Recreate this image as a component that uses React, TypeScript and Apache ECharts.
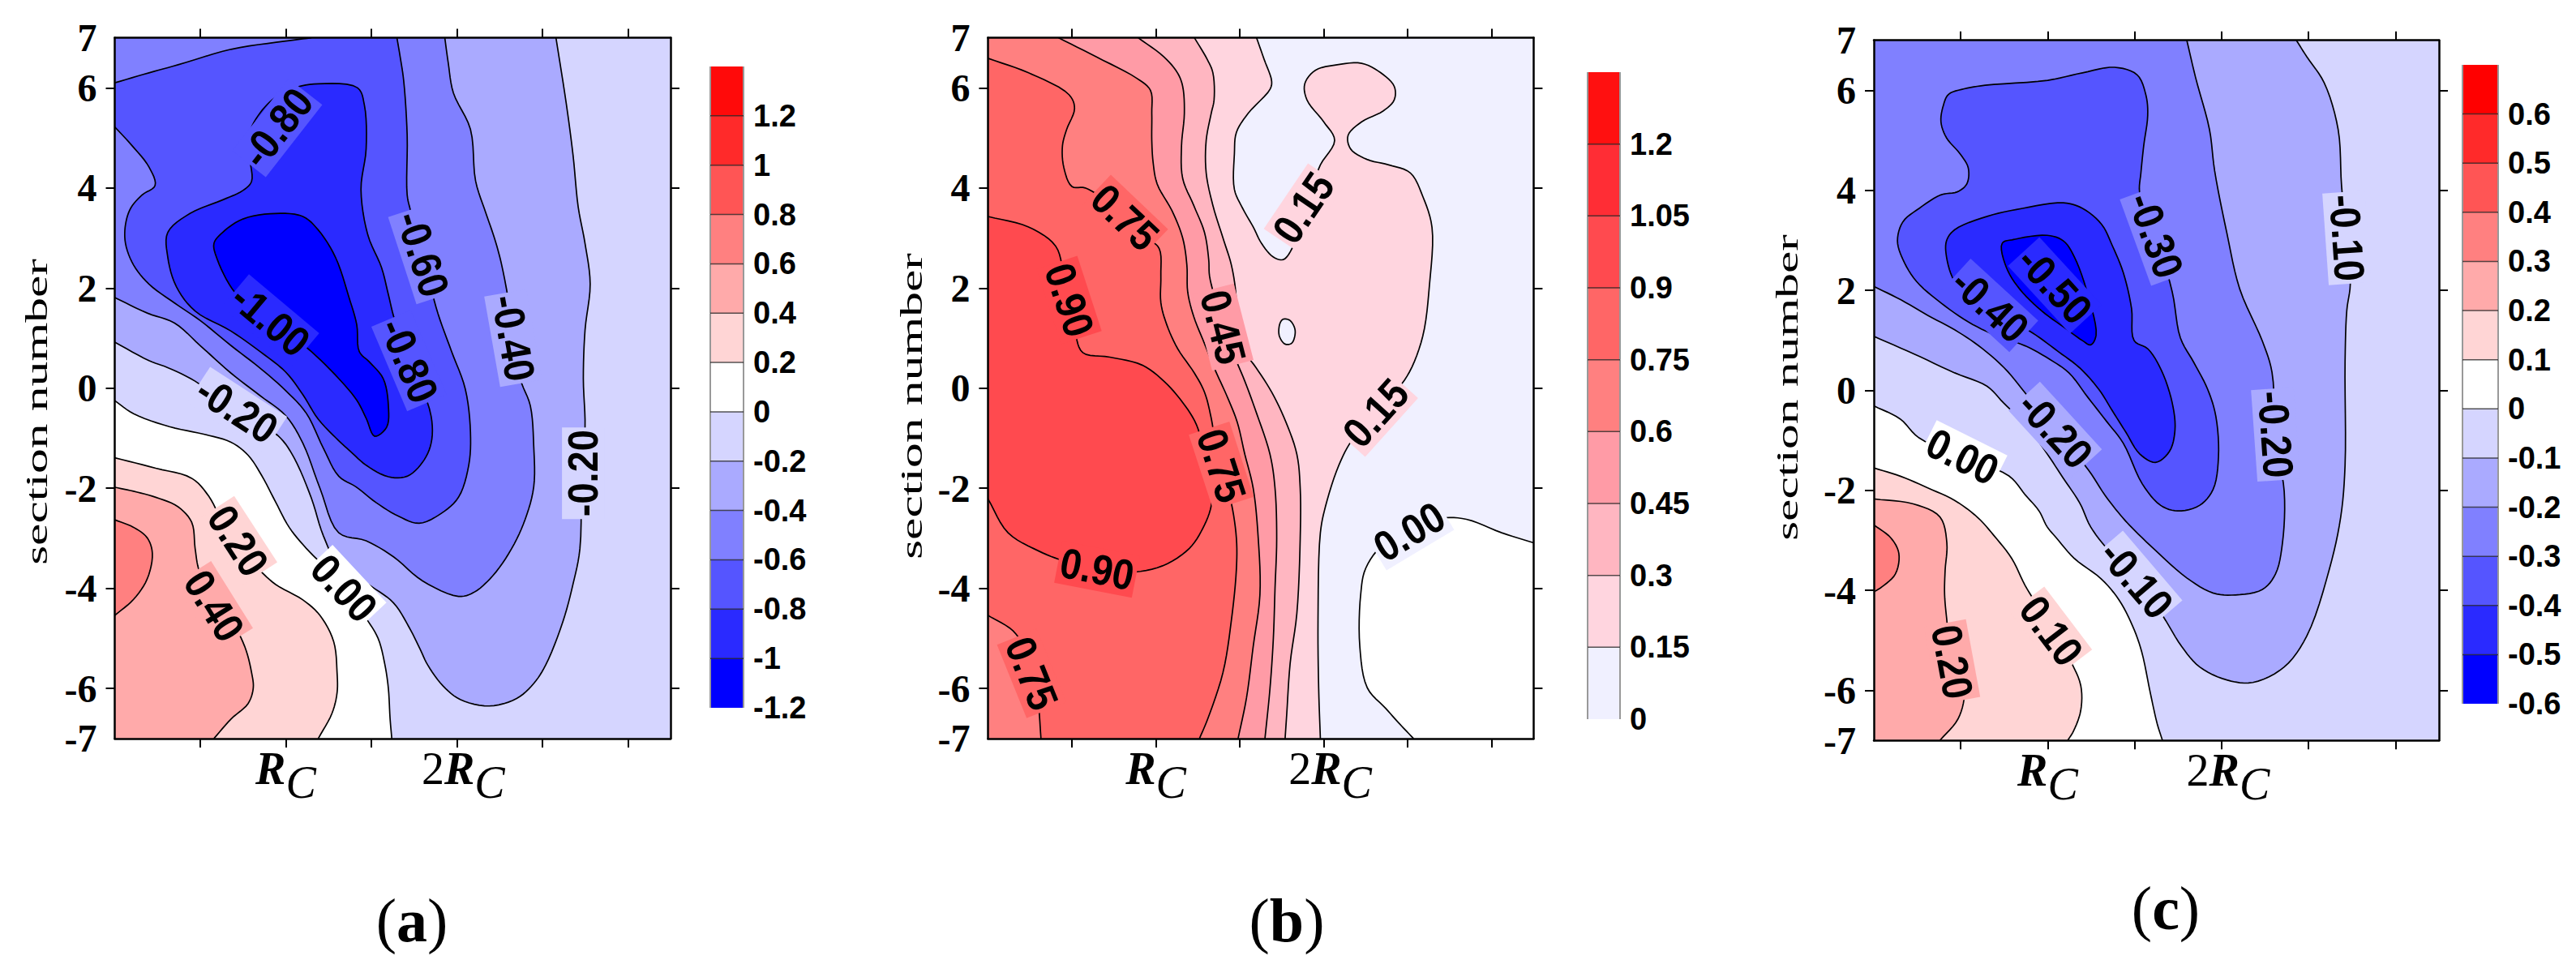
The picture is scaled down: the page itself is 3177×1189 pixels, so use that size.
import React, { useEffect, useRef } from "react";
import * as echarts from "echarts";

// ---------------- shared axes ----------------
const X_MIN = 0, X_MAX = 3.25, Y_MIN = -7, Y_MAX = 7;
const X_TICKS = [0.5, 1, 1.5, 2, 2.5, 3];
const X_LABEL_TICKS = [1, 2];
const Y_TICKS = [-6, -4, -2, 0, 2, 4, 6];
const Y_LABELS = [-7, -6, -4, -2, 0, 2, 4, 6, 7];
const Y_TITLE = "section number";
const TAGS = ["a", "b", "c"];

// ---------------- panel (a) ----------------
const A_LEVELS = [-1.2, -1, -0.8, -0.6, -0.4, -0.2, 0, 0.2, 0.4, 0.6, 0.8, 1, 1.2];
const A_COLORS = ["#0000FF", "#2A2AFF", "#5555FF", "#8080FF", "#AAAAFF", "#D5D5FF", "#FFFFFF", "#FFD5D5", "#FFAAAA", "#FF8080", "#FF5555", "#FF2A2A", "#FF0A0A"];
const A_CBAR_TOP = 1.4;
const A_CBAR_LABELS = [1.2, 1, 0.8, 0.6, 0.4, 0.2, 0, -0.2, -0.4, -0.6, -0.8, -1, -1.2];
const A_M10 = [[0.60,2.57],[0.58,2.89],[0.63,3.11],[0.75,3.38],[0.94,3.49],[1.10,3.43],[1.19,3.16],[1.29,2.62],[1.37,1.81],[1.415,1.27],[1.43,0.73],[1.49,0.52],[1.57,0.19],[1.60,-0.35],[1.59,-0.78],[1.52,-0.96],[1.47,-0.6],[1.415,-0.24],[1.31,0.19],[1.15,0.73],[1.05,1.0],[0.91,1.32],[0.80,1.6],[0.69,1.97]];
const A_M08 = [[0.31,3.11],[0.44,3.49],[0.63,3.76],[0.75,3.95],[0.80,4.13],[0.79,4.6],[0.79,5.11],[0.85,5.5],[0.94,5.81],[1.05,6.0],[1.19,6.08],[1.42,6.0],[1.46,5.65],[1.47,4.78],[1.44,3.97],[1.48,3.06],[1.56,2.41],[1.60,1.87],[1.64,1.33],[1.75,0.4],[1.85,-0.56],[1.85,-1.1],[1.80,-1.48],[1.71,-1.76],[1.60,-1.77],[1.47,-1.54],[1.38,-1.27],[1.31,-1.05],[1.19,-0.62],[1.10,-0.13],[1.0,0.32],[0.85,0.73],[0.68,1.14],[0.47,1.54],[0.36,2.03],[0.31,2.62]];
const A_M06A = [[0,6.1],[0.2,6.3],[0.37,6.46],[0.68,6.77],[0.99,6.93],[1.15,7]];
const A_M06B = [[0,5.22],[0.10,4.85],[0.20,4.42],[0.236,4.05],[0.16,3.86],[0.094,3.6],[0.063,3.27],[0.063,2.89],[0.11,2.46],[0.20,2.08],[0.35,1.70],[0.5,1.35],[0.68,0.85],[0.85,0.4],[1.0,-0.05],[1.12,-0.5],[1.22,-1.2],[1.31,-1.76],[1.41,-1.97],[1.53,-2.29],[1.66,-2.56],[1.78,-2.70],[1.91,-2.5],[2.01,-2.18],[2.07,-1.54],[2.08,-0.88],[2.05,-0.02],[1.97,0.73],[1.89,1.49],[1.83,2.25],[1.78,2.85],[1.73,3.54],[1.71,3.86],[1.71,5.05],[1.69,6.13],[1.67,6.6],[1.65,7]];
const A_M04 = [[0,1.81],[0.19,1.5],[0.35,1.3],[0.5,0.85],[0.68,0.3],[0.85,-0.15],[1.0,-0.55],[1.1,-1.1],[1.2,-2.0],[1.31,-2.89],[1.47,-3.05],[1.63,-3.37],[1.8,-3.85],[2.01,-4.16],[2.10,-4.08],[2.21,-3.75],[2.32,-3.21],[2.40,-2.62],[2.45,-1.97],[2.45,-1.16],[2.43,-0.35],[2.37,0.2],[2.32,1.4],[2.26,2.5],[2.22,3.0],[2.17,3.5],[2.11,4.14],[2.08,5.17],[1.98,5.9],[1.95,6.5],[1.93,7]];
const A_M02 = [[0,0.92],[0.2,0.55],[0.31,0.41],[0.47,0.14],[0.6,-0.2],[0.715,-0.43],[0.85,-0.7],[0.97,-1.0],[1.05,-1.4],[1.15,-2.2],[1.22,-2.95],[1.31,-3.54],[1.50,-3.96],[1.63,-4.29],[1.72,-4.77],[1.785,-5.21],[1.83,-5.53],[1.92,-5.95],[2.02,-6.22],[2.19,-6.35],[2.35,-6.2],[2.45,-5.9],[2.52,-5.53],[2.62,-4.67],[2.68,-3.91],[2.72,-3.21],[2.73,-1.54],[2.75,-0.78],[2.74,0.19],[2.75,1.16],[2.78,2.08],[2.75,2.89],[2.71,3.62],[2.68,4.65],[2.64,5.69],[2.58,7]];
const A_Z0 = [[0,-0.25],[0.11,-0.51],[0.32,-0.77],[0.52,-0.92],[0.68,-1.08],[0.78,-1.34],[0.86,-1.75],[0.94,-2.27],[1.02,-2.78],[1.12,-3.2],[1.25,-3.65],[1.36,-4.1],[1.47,-4.6],[1.54,-5.0],[1.58,-5.53],[1.60,-6.0],[1.61,-6.6],[1.62,-7]];
const A_P02 = [[0,-1.39],[0.24,-1.6],[0.45,-1.8],[0.55,-2.16],[0.63,-2.68],[0.73,-3.2],[0.84,-3.61],[0.94,-3.92],[1.1,-4.23],[1.2,-4.54],[1.28,-5.06],[1.3,-5.68],[1.3,-6.09],[1.27,-6.5],[1.19,-7]];
const A_P04 = [[0,-1.98],[0.11,-2.06],[0.24,-2.18],[0.37,-2.37],[0.45,-2.68],[0.47,-3.2],[0.49,-3.61],[0.55,-4.13],[0.68,-4.64],[0.76,-5.16],[0.80,-5.68],[0.81,-5.99],[0.78,-6.3],[0.68,-6.61],[0.58,-7]];
const A_P06 = [[0,-2.63],[0.11,-2.78],[0.19,-2.99],[0.22,-3.3],[0.19,-3.81],[0.11,-4.22],[0,-4.54]];
const A_LABELS = [["-0.80",0.95,5.2,52],["-1.00",0.91,1.36,-40],["-0.60",1.80,2.68,-72],["-0.80",1.72,0.55,-67],["-0.40",2.33,1.0,-80],["-0.20",2.74,-1.7,90],["-0.20",0.715,-0.43,-33],["0.00",1.34,-4.0,-47],["0.20",0.72,-3.05,-57],["0.40",0.58,-4.35,-58]];

// ---------------- panel (b) ----------------
const B_LEVELS = [0, 0.15, 0.3, 0.45, 0.6, 0.75, 0.9, 1.05, 1.2];
const B_COLORS = ["#F0F0FF", "#FFD5DF", "#FFB6C1", "#FF9BA6", "#FF8080", "#FF6666", "#FF4A4F", "#FF2D35", "#FF1010"];
const B_CBAR_TOP = 1.35;
const B_CBAR_LABELS = [1.2, 1.05, 0.9, 0.75, 0.6, 0.45, 0.3, 0.15, 0];
const B_Z0 = [[3.25,-3.09],[3.06,-2.89],[2.85,-2.62],[2.7,-2.6],[2.51,-2.85],[2.36,-3.1],[2.25,-3.6],[2.22,-4.13],[2.215,-5.16],[2.26,-5.99],[2.37,-6.4],[2.45,-6.7],[2.535,-7]];
const B_P015 = [[1.60,7],[1.645,6.57],[1.69,6.13],[1.68,5.97],[1.55,5.49],[1.48,5.11],[1.468,4.68],[1.468,3.97],[1.516,3.60],[1.58,3.22],[1.63,2.89],[1.70,2.62],[1.76,2.57],[1.82,2.85],[1.88,3.5],[1.93,4.0],[1.98,4.46],[2.065,4.95],[2.0,5.32],[1.90,5.76],[1.887,6.08],[1.95,6.35],[2.08,6.46],[2.226,6.49],[2.34,6.30],[2.42,6.03],[2.42,5.76],[2.355,5.54],[2.226,5.32],[2.145,5.05],[2.16,4.78],[2.258,4.57],[2.387,4.46],[2.516,4.30],[2.59,3.83],[2.645,3.21],[2.63,2.07],[2.59,1.04],[2.51,0.32],[2.42,-0.1],[2.31,-0.5],[2.17,-1.03],[2.09,-1.54],[2.01,-2.37],[1.98,-2.89],[1.966,-4.64],[1.97,-6.0],[1.98,-7]];
const B_P015S = [[1.76,1.38],[1.80,1.35],[1.83,1.15],[1.81,0.9],[1.77,0.88],[1.735,1.05],[1.74,1.3]];
const B_P03 = [[1.23,7],[1.306,6.57],[1.34,6.30],[1.347,5.76],[1.33,5.49],[1.30,4.95],[1.30,4.30],[1.34,3.65],[1.40,3.0],[1.45,2.46],[1.476,1.92],[1.484,1.27],[1.516,0.79],[1.597,0.41],[1.69,-0.08],[1.774,-0.67],[1.84,-1.32],[1.86,-2.0],[1.86,-3.0],[1.84,-4.5],[1.80,-5.5],[1.78,-6.5],[1.77,-7]];
const B_P045 = [[0.895,7],[1.048,6.62],[1.129,6.30],[1.16,6.03],[1.17,5.49],[1.153,4.84],[1.16,4.19],[1.226,3.65],[1.29,3.11],[1.315,2.57],[1.32,2.24],[1.36,1.7],[1.40,1.22],[1.46,0.7],[1.53,0.14],[1.6,-0.5],[1.68,-1.32],[1.71,-2.0],[1.72,-3.0],[1.71,-4.0],[1.70,-5.0],[1.68,-6.0],[1.65,-7]];
const B_P06 = [[0.42,7],[0.645,6.62],[0.887,6.19],[0.968,5.95],[0.976,5.49],[0.976,4.95],[0.984,4.51],[1.008,4.08],[1.097,3.54],[1.16,3.0],[1.185,2.46],[1.19,1.92],[1.226,1.43],[1.29,0.89],[1.355,0.35],[1.42,-0.13],[1.484,-0.67],[1.53,-1.32],[1.58,-2.0],[1.61,-3.0],[1.62,-4.13],[1.58,-5.16],[1.54,-6.19],[1.49,-7]];
const B_P075A = [[0,6.59],[0.242,6.30],[0.484,5.86],[0.516,5.59],[0.468,5.16],[0.444,4.84],[0.452,4.41],[0.50,4.03],[0.58,4.0],[0.7,3.75],[0.815,3.41],[0.95,3.0],[1.02,2.79],[1.03,2.24],[1.03,1.71],[1.065,1.27],[1.13,0.79],[1.23,0.30],[1.29,-0.08],[1.33,-0.6],[1.36,-1.2],[1.40,-1.7],[1.45,-2.3],[1.48,-3.0],[1.48,-3.61],[1.45,-4.64],[1.40,-5.68],[1.31,-6.6],[1.26,-7]];
const B_P075B = [[0,-4.54],[0.15,-4.85],[0.23,-5.26],[0.27,-5.68],[0.30,-6.29],[0.316,-7]];
const B_P09 = [[0,3.43],[0.242,3.22],[0.403,2.84],[0.45,2.3],[0.484,1.76],[0.52,1.1],[0.565,0.71],[0.726,0.62],[0.919,0.46],[1.048,0.14],[1.161,-0.29],[1.242,-0.73],[1.29,-1.32],[1.33,-1.9],[1.33,-2.35],[1.28,-2.8],[1.2,-3.2],[1.04,-3.55],[0.84,-3.68],[0.62,-3.6],[0.45,-3.45],[0.3,-3.25],[0.12,-2.89],[0,-2.21]];
const B_LABELS = [["0.75",0.815,3.41,-43.5],["0.90",0.484,1.76,-72],["0.45",1.40,1.22,-75.5],["0.15",1.88,3.6,56],["0.75",1.39,-1.55,-72],["0.15",2.31,-0.5,48],["0.90",0.65,-3.62,-11],["0.00",2.51,-2.87,31],["0.75",0.26,-5.7,-68]];

// ---------------- panel (c) ----------------
const C_LEVELS = [-0.6, -0.5, -0.4, -0.3, -0.2, -0.1, 0, 0.1, 0.2, 0.3, 0.4, 0.5, 0.6];
const C_COLORS = ["#0000FF", "#2A2AFF", "#5555FF", "#8080FF", "#AAAAFF", "#D5D5FF", "#FFFFFF", "#FFD5D5", "#FFAAAA", "#FF8080", "#FF5555", "#FF2A2A", "#FF0000"];
const C_CBAR_TOP = 0.7;
const C_CBAR_LABELS = [0.6, 0.5, 0.4, 0.3, 0.2, 0.1, 0, -0.1, -0.2, -0.3, -0.4, -0.5, -0.6];
const C_M05 = [[0.738,2.94],[0.809,3.02],[0.997,3.10],[1.09,2.99],[1.153,2.67],[1.231,1.91],[1.278,1.10],[1.247,0.91],[1.20,0.995],[1.09,1.27],[0.965,1.59],[0.84,2.02],[0.762,2.46]];
const C_M04 = [[0.418,2.99],[0.464,3.21],[0.652,3.48],[0.856,3.64],[1.09,3.75],[1.20,3.64],[1.31,3.32],[1.372,2.89],[1.435,2.35],[1.482,1.64],[1.497,0.996],[1.576,0.83],[1.654,0.40],[1.716,-0.25],[1.732,-0.79],[1.70,-1.22],[1.62,-1.44],[1.529,-1.27],[1.45,-0.84],[1.372,-0.41],[1.294,0.02],[1.184,0.45],[1.059,0.78],[0.934,1.10],[0.809,1.37],[0.668,1.70],[0.558,1.86],[0.464,2.18],[0.418,2.67]];
const C_M03 = [[0.40,5.70],[0.43,5.92],[0.52,6.03],[0.64,6.1],[1.0,6.2],[1.2,6.35],[1.385,6.46],[1.514,6.31],[1.565,5.9],[1.575,5.5],[1.552,4.89],[1.536,4.35],[1.528,3.97],[1.57,3.5],[1.62,3.10],[1.716,1.97],[1.763,1.05],[1.84,0.56],[1.92,0.02],[1.967,-0.52],[1.982,-1.33],[1.951,-1.98],[1.873,-2.30],[1.748,-2.41],[1.65,-2.3],[1.544,-1.87],[1.435,-1.06],[1.341,-0.63],[1.231,-0.14],[1.122,0.35],[1.012,0.62],[0.871,0.89],[0.699,1.10],[0.543,1.37],[0.386,1.75],[0.245,2.18],[0.167,2.62],[0.136,2.99],[0.167,3.37],[0.261,3.64],[0.386,3.91],[0.48,3.97],[0.535,4.13],[0.543,4.45],[0.496,4.73],[0.418,5.05],[0.386,5.37]];
const C_M02 = [[0,2.08],[0.156,1.81],[0.31,1.5],[0.465,1.21],[0.60,0.9],[0.75,0.45],[0.87,-0.05],[0.97,-0.5],[1.043,-0.79],[1.12,-1.1],[1.236,-1.6],[1.33,-2.1],[1.42,-2.5],[1.48,-2.73],[1.62,-3.2],[1.8,-3.75],[1.95,-4.05],[2.08,-4.09],[2.235,-3.98],[2.31,-3.67],[2.35,-3.05],[2.36,-2.02],[2.31,-0.98],[2.29,0.36],[2.235,0.98],[2.105,2.02],[2.03,3.15],[1.96,4.39],[1.93,5.22],[1.85,6.26],[1.80,7]];
const C_M01 = [[0,1.08],[0.23,0.73],[0.465,0.35],[0.652,0.08],[0.746,-0.25],[0.871,-0.68],[0.997,-1.27],[1.09,-1.76],[1.184,-2.25],[1.247,-2.73],[1.35,-3.2],[1.51,-3.78],[1.66,-4.5],[1.77,-5.12],[1.874,-5.53],[2.03,-5.79],[2.18,-5.84],[2.36,-5.53],[2.49,-4.91],[2.62,-3.57],[2.685,-2.53],[2.71,-1.5],[2.71,0.57],[2.72,1.6],[2.74,2.12],[2.72,3.05],[2.69,4.08],[2.67,5.22],[2.59,6.15],[2.49,6.67],[2.43,7]];
const C_Z0 = [[0,-0.31],[0.151,-0.57],[0.26,-0.95],[0.51,-1.33],[0.777,-1.71],[0.871,-2.09],[0.95,-2.41],[0.997,-2.73],[1.05,-2.95],[1.153,-3.36],[1.308,-3.77],[1.41,-4.19],[1.488,-4.71],[1.54,-5.22],[1.59,-6.05],[1.63,-6.67],[1.66,-7]];
const C_P01 = [[0,-1.55],[0.156,-1.72],[0.31,-1.95],[0.465,-2.2],[0.6,-2.55],[0.69,-2.9],[0.793,-3.36],[0.87,-3.9],[0.95,-4.35],[1.05,-4.9],[1.13,-5.4],[1.19,-5.9],[1.19,-6.4],[1.15,-6.8],[1.115,-7]];
const C_P02 = [[0,-2.17],[0.227,-2.27],[0.38,-2.53],[0.42,-3.05],[0.41,-3.6],[0.407,-4.08],[0.42,-4.6],[0.44,-5.2],[0.50,-5.8],[0.52,-6.1],[0.484,-6.57],[0.38,-7]];
const C_P03 = [[0,-2.69],[0.098,-2.95],[0.144,-3.26],[0.124,-3.67],[0.046,-3.93],[0,-4.03]];
const C_LABELS = [["-0.50",1.04,2.1,-47.5],["-0.40",0.668,1.70,-42.5],["-0.30",1.62,3.10,-70],["-0.20",1.043,-0.79,-47.5],["-0.10",2.72,3.05,-86],["-0.20",2.31,-0.88,-86],["-0.10",1.51,-3.78,-49.5],["0.00",0.51,-1.33,-26.6],["0.10",1.02,-4.81,-52.8],["0.20",0.45,-5.43,-79.5]];

// ---------------- layout (pixels) ----------------
const PLOT_GRIDS = [
  { left: 141.5, top: 46.6, width: 685.5, height: 864.3 },
  { left: 1218.4, top: 46.6, width: 673, height: 864.3 },
  { left: 2311, top: 49.7, width: 697, height: 863.6 },
];
const CBAR_GRIDS = [
  { left: 876, top: 82, width: 41, height: 791 },
  { left: 1958, top: 89, width: 40, height: 798 },
  { left: 3037, top: 80, width: 44, height: 788 },
];
const YTITLE_POS = [[45, 508], [1124, 501], [2204, 478]];
const TAG_POS = [[508, 1135], [1587, 1135], [2671, 1120]];

const PANELS = [
  {
    levels: A_LEVELS, colors: A_COLORS, below: "#0000FF", base: -0.1, step: 0.2,
    cbarTop: A_CBAR_TOP, cbarLabels: A_CBAR_LABELS, labels: A_LABELS,
    contours: {
      m10: { pts: A_M10, closed: true }, m08: { pts: A_M08, closed: true },
      m06a: { pts: A_M06A, closed: false }, m06b: { pts: A_M06B, closed: false },
      m04: { pts: A_M04, closed: false }, m02: { pts: A_M02, closed: false },
      z0: { pts: A_Z0, closed: false }, p02: { pts: A_P02, closed: false },
      p04: { pts: A_P04, closed: false }, p06: { pts: A_P06, closed: false },
    },
    regions: [
      { v: -0.3, parts: ["m02", [0, 7]] },
      { v: -0.5, parts: ["m04", [0, 7]] },
      { v: -0.7, parts: ["m06b", "~m06a"] },
      { v: -0.9, parts: ["m08"] },
      { v: -1.1, parts: ["m10"] },
      { v: 0.1, parts: ["z0", [0, -7]] },
      { v: 0.3, parts: ["p02", [0, -7]] },
      { v: 0.5, parts: ["p04", [0, -7]] },
      { v: 0.7, parts: ["p06"] },
    ],
  },
  {
    levels: B_LEVELS, colors: B_COLORS, below: "#FFFFFF", base: 0.07, step: 0.15,
    cbarTop: B_CBAR_TOP, cbarLabels: B_CBAR_LABELS, labels: B_LABELS,
    contours: {
      z0: { pts: B_Z0, closed: false }, p015: { pts: B_P015, closed: false },
      p015s: { pts: B_P015S, closed: true }, p03: { pts: B_P03, closed: false },
      p045: { pts: B_P045, closed: false }, p06: { pts: B_P06, closed: false },
      p075a: { pts: B_P075A, closed: false }, p075b: { pts: B_P075B, closed: false },
      p09: { pts: B_P09, closed: false },
    },
    regions: [
      { v: -0.07, parts: ["z0", [3.25, -7]] },
      { v: 0.2, parts: ["p015", [0, -7], [0, 7]] },
      { v: 0.07, parts: ["p015s"] },
      { v: 0.35, parts: ["p03", [0, -7], [0, 7]] },
      { v: 0.5, parts: ["p045", [0, -7], [0, 7]] },
      { v: 0.65, parts: ["p06", [0, -7], [0, 7]] },
      { v: 0.8, parts: ["p075a", "~p075b"] },
      { v: 0.95, parts: ["p09"] },
    ],
  },
  {
    levels: C_LEVELS, colors: C_COLORS, below: "#0000FF", base: -0.05, step: 0.1,
    cbarTop: C_CBAR_TOP, cbarLabels: C_CBAR_LABELS, labels: C_LABELS,
    contours: {
      m05: { pts: C_M05, closed: true }, m04: { pts: C_M04, closed: true },
      m03: { pts: C_M03, closed: true }, m02: { pts: C_M02, closed: false },
      m01: { pts: C_M01, closed: false }, z0: { pts: C_Z0, closed: false },
      p01: { pts: C_P01, closed: false }, p02: { pts: C_P02, closed: false },
      p03: { pts: C_P03, closed: false },
    },
    regions: [
      { v: -0.15, parts: ["m01", [0, 7]] },
      { v: -0.25, parts: ["m02", [0, 7]] },
      { v: -0.35, parts: ["m03"] },
      { v: -0.45, parts: ["m04"] },
      { v: -0.55, parts: ["m05"] },
      { v: 0.05, parts: ["z0", [0, -7]] },
      { v: 0.15, parts: ["p01", [0, -7]] },
      { v: 0.25, parts: ["p02", [0, -7]] },
      { v: 0.35, parts: ["p03"] },
    ],
  },
];

function colorOf(panel: any, v: number) {
  if (v < panel.levels[0]) return panel.below;
  let idx = 0;
  for (let i = 0; i < panel.levels.length; i++) if (v >= panel.levels[i] - 1e-9) idx = i;
  return panel.colors[idx];
}

// centripetal Catmull-Rom through pixel points (drawing only)
function crPoint(p0: number[], p1: number[], p2: number[], p3: number[], u: number) {
  const d = (a: number[], b: number[]) => Math.max(1e-4, Math.pow(Math.hypot(b[0] - a[0], b[1] - a[1]), 0.5));
  const t0 = 0, t1 = t0 + d(p0, p1), t2 = t1 + d(p1, p2), t3 = t2 + d(p2, p3);
  const t = t1 + (t2 - t1) * u;
  const lerp = (a: number[], b: number[], ta: number, tb: number) => [
    ((tb - t) * a[0] + (t - ta) * b[0]) / (tb - ta),
    ((tb - t) * a[1] + (t - ta) * b[1]) / (tb - ta),
  ];
  const A1 = lerp(p0, p1, t0, t1), A2 = lerp(p1, p2, t1, t2), A3 = lerp(p2, p3, t2, t3);
  const B1 = lerp(A1, A2, t0, t2), B2 = lerp(A2, A3, t1, t3);
  return lerp(B1, B2, t1, t2);
}
function smooth(pts: number[][], closed: boolean, seg = 6) {
  const n = pts.length;
  if (n < 3) return pts.slice();
  const get = (i: number) => {
    if (closed) return pts[((i % n) + n) % n];
    if (i < 0) return [2 * pts[0][0] - pts[1][0], 2 * pts[0][1] - pts[1][1]];
    if (i > n - 1) return [2 * pts[n - 1][0] - pts[n - 2][0], 2 * pts[n - 1][1] - pts[n - 2][1]];
    return pts[i];
  };
  const out: number[][] = [];
  const segs = closed ? n : n - 1;
  for (let i = 0; i < segs; i++) {
    const p0 = get(i - 1), p1 = get(i), p2 = get(i + 1), p3 = get(i + 2);
    for (let k = 0; k < seg; k++) out.push(crPoint(p0, p1, p2, p3, k / seg));
  }
  out.push(closed ? out[0] : pts[n - 1]);
  return out;
}

function fieldSeries(panel: any, gi: number) {
  return {
    type: "custom", coordinateSystem: "cartesian2d", xAxisIndex: gi * 2, yAxisIndex: gi * 2,
    clip: true, silent: true, z: 2,
    data: [[X_MIN, Y_MIN]],
    renderItem: (params: any, api: any) => {
      const px = (p: number[]) => api.coord(p);
      const children: any[] = [];
      const tl = px([X_MIN, Y_MAX]), br = px([X_MAX, Y_MIN]);
      children.push({ type: "rect", shape: { x: tl[0], y: tl[1], width: br[0] - tl[0], height: br[1] - tl[1] }, style: { fill: colorOf(panel, panel.base) } });
      panel.regions.forEach((r: any) => {
        const pts: number[][] = [];
        r.parts.forEach((part: any) => {
          if (typeof part === "string") {
            const rev = part[0] === "~";
            const c = panel.contours[rev ? part.slice(1) : part];
            let s = smooth(c.pts.map(px), c.closed);
            if (rev) s = s.slice().reverse();
            pts.push(...s);
          } else pts.push(px(part));
        });
        children.push({ type: "polygon", shape: { points: pts }, style: { fill: colorOf(panel, r.v), stroke: colorOf(panel, r.v), lineWidth: 0.6 } });
      });
      Object.keys(panel.contours).forEach((key) => {
        const c = panel.contours[key];
        children.push({ type: "polyline", shape: { points: smooth(c.pts.map(px), c.closed) }, style: { fill: null, stroke: "#000", lineWidth: 1.7 } });
      });
      return { type: "group", children };
    },
  };
}

function labelSeries(panel: any, gi: number) {
  return {
    type: "custom", coordinateSystem: "cartesian2d", xAxisIndex: gi * 2, yAxisIndex: gi * 2,
    clip: true, silent: true, z: 3,
    data: panel.labels.map((l: any) => [l[1], l[2]]),
    renderItem: (params: any, api: any) => {
      const lab = panel.labels[params.dataIndex];
      const p = api.coord([api.value(0), api.value(1)]);
      const lev = parseFloat(lab[0]);
      return {
        type: "text", x: p[0], y: p[1], rotation: (lab[3] * Math.PI) / 180, scaleY: 1.12,
        style: {
          text: lab[0], font: 'bold 47px "Liberation Sans"', fill: "#000",
          align: "center", verticalAlign: "middle",
          backgroundColor: colorOf(panel, lev + panel.step / 2), padding: [0, 3],
        },
      };
    },
  };
}

function cbarSeries(panel: any, gi: number) {
  const n = panel.levels.length;
  return {
    type: "custom", coordinateSystem: "cartesian2d", xAxisIndex: 6 + gi, yAxisIndex: 6 + gi,
    silent: true, z: 2,
    data: panel.levels.map((lv: number) => [0, lv]),
    renderItem: (params: any, api: any) => {
      const i = params.dataIndex;
      const lo = panel.levels[i], hi = i < n - 1 ? panel.levels[i + 1] : panel.cbarTop;
      const a = api.coord([0, hi]), b = api.coord([1, lo]);
      const kids: any[] = [
        { type: "rect", shape: { x: a[0], y: a[1], width: b[0] - a[0], height: b[1] - a[1] }, style: { fill: panel.colors[i] } },
        { type: "line", shape: { x1: a[0], y1: a[1], x2: a[0], y2: b[1] }, style: { stroke: "#999", lineWidth: 2 } },
        { type: "line", shape: { x1: b[0], y1: a[1], x2: b[0], y2: b[1] }, style: { stroke: "#999", lineWidth: 2 } },
      ];
      if (i > 0) kids.push({ type: "line", shape: { x1: a[0], y1: b[1], x2: b[0], y2: b[1] }, style: { stroke: "rgba(30,30,30,0.75)", lineWidth: 1.5 } });
      return { type: "group", children: kids };
    },
  };
}

const AXIS_LINE = { show: true, onZero: false, lineStyle: { color: "#000", width: 2.5 } };
const RICH_BASE = { fontFamily: "Liberation Serif", fontSize: 56, color: "#000", verticalAlign: "bottom", lineHeight: 56 };

function buildOption() {
  const xAxis: any[] = [];
  const yAxis: any[] = [];
  const grid: any[] = [];
  const series: any[] = [];
  PLOT_GRIDS.forEach((g, gi) => {
    grid.push({ ...g, containLabel: false });
    const tick = { show: true, inside: false, length: 11, customValues: X_TICKS, lineStyle: { color: "#000", width: 2 } };
    xAxis.push({
      type: "value", gridIndex: gi, position: "bottom", min: X_MIN, max: X_MAX, z: 10,
      axisLine: AXIS_LINE, axisTick: tick, splitLine: { show: false },
      axisLabel: {
        show: true, customValues: X_LABEL_TICKS, margin: 26,
        formatter: (v: number) => (v === 1 ? "{r|R}{s|C}" : v === 2 ? "{n|2}{r|R}{s|C}" : ""),
        rich: {
          r: { ...RICH_BASE, fontStyle: "italic", fontWeight: "bold", padding: [0, 0, 17, 0] },
          s: { ...RICH_BASE, fontStyle: "italic" },
          n: { ...RICH_BASE, padding: [0, 0, 17, 16] },
        },
      },
    });
    xAxis.push({
      type: "value", gridIndex: gi, position: "top", min: X_MIN, max: X_MAX, z: 10,
      axisLine: AXIS_LINE, axisTick: tick, splitLine: { show: false }, axisLabel: { show: false },
    });
    const ytick = { show: true, inside: false, length: 11, customValues: Y_TICKS, lineStyle: { color: "#000", width: 2 } };
    yAxis.push({
      type: "value", gridIndex: gi, position: "left", min: Y_MIN, max: Y_MAX, z: 10,
      axisLine: AXIS_LINE, axisTick: ytick, splitLine: { show: false },
      axisLabel: { show: true, customValues: Y_LABELS, margin: 22, fontFamily: "Liberation Serif", fontWeight: "bold", fontSize: 48, color: "#000" },
    });
    yAxis.push({
      type: "value", gridIndex: gi, position: "right", min: Y_MIN, max: Y_MAX, z: 10,
      axisLine: AXIS_LINE, axisTick: ytick, splitLine: { show: false }, axisLabel: { show: false },
    });
  });
  CBAR_GRIDS.forEach((g, gi) => {
    const panel = PANELS[gi];
    grid.push({ ...g, containLabel: false });
    xAxis.push({ type: "value", gridIndex: 3 + gi, min: 0, max: 1, show: false });
    yAxis.push({
      type: "value", gridIndex: 3 + gi, position: "right", min: panel.levels[0], max: panel.cbarTop,
      axisLine: { show: false }, axisTick: { show: false }, splitLine: { show: false },
      axisLabel: {
        show: true, customValues: panel.cbarLabels, margin: 12,
        formatter: (v: number) => String(Math.round(v * 100) / 100),
        fontFamily: "Liberation Sans", fontWeight: "bold", fontSize: 38, color: "#000",
      },
    });
  });
  PANELS.forEach((p, gi) => {
    series.push(fieldSeries(p, gi));
    series.push(labelSeries(p, gi));
    series.push(cbarSeries(p, gi));
  });
  const graphic: any[] = [];
  YTITLE_POS.forEach(([x, y]) => {
    graphic.push({
      type: "text", x, y, rotation: Math.PI / 2, scaleX: 1.62, silent: true,
      style: { text: Y_TITLE, font: '38px "Liberation Serif"', fill: "#000", align: "center", verticalAlign: "middle" },
    });
  });
  TAG_POS.forEach(([x, y], i) => {
    graphic.push({
      type: "text", x, y, silent: true,
      style: {
        text: "{p|(}{b|" + TAGS[i] + "}{p|)}", align: "center", verticalAlign: "middle",
        rich: {
          p: { font: '76px "Liberation Serif"', fill: "#000" },
          b: { font: 'bold 76px "Liberation Serif"', fill: "#000" },
        },
      },
    });
  });
  return { animation: false, backgroundColor: "#ffffff", grid, xAxis, yAxis, series, graphic };
}

export default function App() {
  const ref = useRef<HTMLDivElement>(null);
  useEffect(() => {
    if (!ref.current) return;
    const chart = echarts.init(ref.current, null, { renderer: "svg" });
    chart.setOption(buildOption() as any);
    return () => chart.dispose();
  }, []);
  return (
    <div
      ref={ref}
      style={{ position: "fixed", left: 0, top: 0, width: 3177, height: 1189, background: "#fff" }}
    />
  );
}
